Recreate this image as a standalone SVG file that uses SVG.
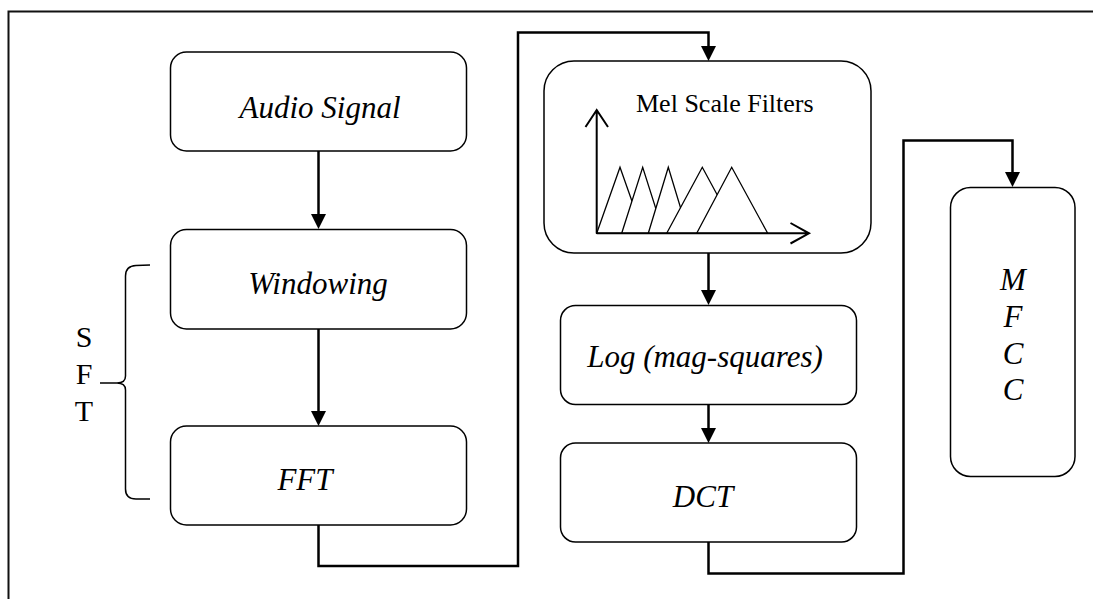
<svg xmlns="http://www.w3.org/2000/svg" width="1093" height="599" viewBox="0 0 1093 599">
  <defs>
    <style>
      .box { fill: #ffffff; stroke: #000000; stroke-width: 1.5; }
      .label { font-family: "Liberation Serif", "Times New Roman", serif; font-style: italic; font-size: 31px; fill: #000000; text-anchor: middle; }
      .plain { font-family: "Liberation Serif", "Times New Roman", serif; fill: #000000; }
      .wire { fill: none; stroke: #000000; stroke-width: 2.5; }
      .thin { fill: none; stroke: #000000; stroke-width: 1.5; }
      .tri { fill: #ffffff; stroke: #000000; stroke-width: 1.3; stroke-linejoin: miter; }
    </style>
    <marker id="head" markerUnits="userSpaceOnUse" markerWidth="15" markerHeight="15" viewBox="0 0 15 15" refX="9" refY="7.5" orient="auto">
      <path d="M0,0 L15,7.5 L0,15 z" fill="#000000"/>
    </marker>
  </defs>

  <rect x="0" y="0" width="1093" height="599" fill="#ffffff"/>

  <!-- frame: top and left edges only -->
  <path d="M8.5,599 L8.5,11.5 L1093,11.5" fill="none" stroke="#111111" stroke-width="2"/>

  <!-- connectors -->
  <g id="connectors">
    <path class="wire" d="M318.5,151 L318.5,223" marker-end="url(#head)"/>
    <path class="wire" d="M318.5,329 L318.5,420" marker-end="url(#head)"/>
    <path class="wire" d="M318.5,525 L318.5,566 L518,566 L518,32.5 L708.5,32.5 L708.5,55" marker-end="url(#head)"/>
    <path class="wire" d="M708.5,241 L708.5,299" marker-end="url(#head)"/>
    <path class="wire" d="M708.5,405 L708.5,437" marker-end="url(#head)"/>
    <path class="wire" d="M708.5,542 L708.5,573.5 L903.5,573.5 L903.5,140.5 L1012.5,140.5 L1012.5,181" marker-end="url(#head)"/>
  </g>

  <!-- STFT grouping brace and label -->
  <g id="sft">
    <path class="thin" stroke-width="2" d="M150,265 L136,265.5 Q125.5,266 125.5,276 L125.5,376 Q125.5,383 117,383 L100,383 M117,383 Q125.5,383 125.5,390 L125.5,489 Q125.5,499 136,499 L150,499"/>
    <text class="plain" font-size="30" text-anchor="middle" x="84" y="347">S</text>
    <text class="plain" font-size="30" text-anchor="middle" x="84" y="383.5">F</text>
    <text class="plain" font-size="30" text-anchor="middle" x="84" y="420.5">T</text>
  </g>

  <g id="audio-signal">
    <rect class="box" x="170.5" y="52" width="296" height="99" rx="16"/>
    <text class="label" x="320" y="118">Audio Signal</text>
  </g>

  <g id="windowing">
    <rect class="box" x="170.5" y="229.5" width="296" height="99.5" rx="16"/>
    <text class="label" x="318" y="294">Windowing</text>
  </g>

  <g id="fft">
    <rect class="box" x="170.5" y="426" width="296" height="99" rx="16"/>
    <text class="label" x="305" y="490">FFT</text>
  </g>

  <g id="mel-filters">
    <rect class="box" x="544" y="61" width="327" height="192" rx="30"/>
    <text class="plain" font-size="26" x="636" y="112">Mel Scale Filters</text>
    <!-- overlapping triangular filter bank -->
    <polygon class="tri" points="596.7,233.3 620,167.3 643.3,233.3"/>
    <polygon class="tri" points="621.7,233.3 642.7,167.3 663.7,233.3"/>
    <polygon class="tri" points="648.3,233.3 668.3,167.3 688.3,233.3"/>
    <polygon class="tri" points="666.7,233.3 702.3,167.3 738,233.3"/>
    <polygon class="tri" points="696.7,233.3 731.7,167.3 767.7,233.3"/>
    <!-- axes -->
    <path fill="none" stroke="#000000" stroke-width="2" d="M596.7,233.3 L596.7,110 M585.5,127 L596.7,110 L608,127"/>
    <path fill="none" stroke="#000000" stroke-width="2" d="M596.7,233.3 L809,233.3 M790.5,223 L809,233.3 L790.5,243.5"/>
  </g>

  <g id="log-mag">
    <rect class="box" x="560.5" y="305.5" width="296" height="99" rx="15"/>
    <text class="label" font-size="28.5" x="705" y="366.5">Log (mag-squares)</text>
  </g>

  <g id="dct">
    <rect class="box" x="560.5" y="443" width="296" height="99" rx="15"/>
    <text class="label" x="703" y="507">DCT</text>
  </g>

  <g id="mfcc">
    <rect class="box" x="950.5" y="187.5" width="124.5" height="289" rx="20"/>
    <text class="label" x="1013" y="290">M</text>
    <text class="label" x="1013" y="326.5">F</text>
    <text class="label" x="1013" y="363.5">C</text>
    <text class="label" x="1013" y="400">C</text>
  </g>
</svg>
